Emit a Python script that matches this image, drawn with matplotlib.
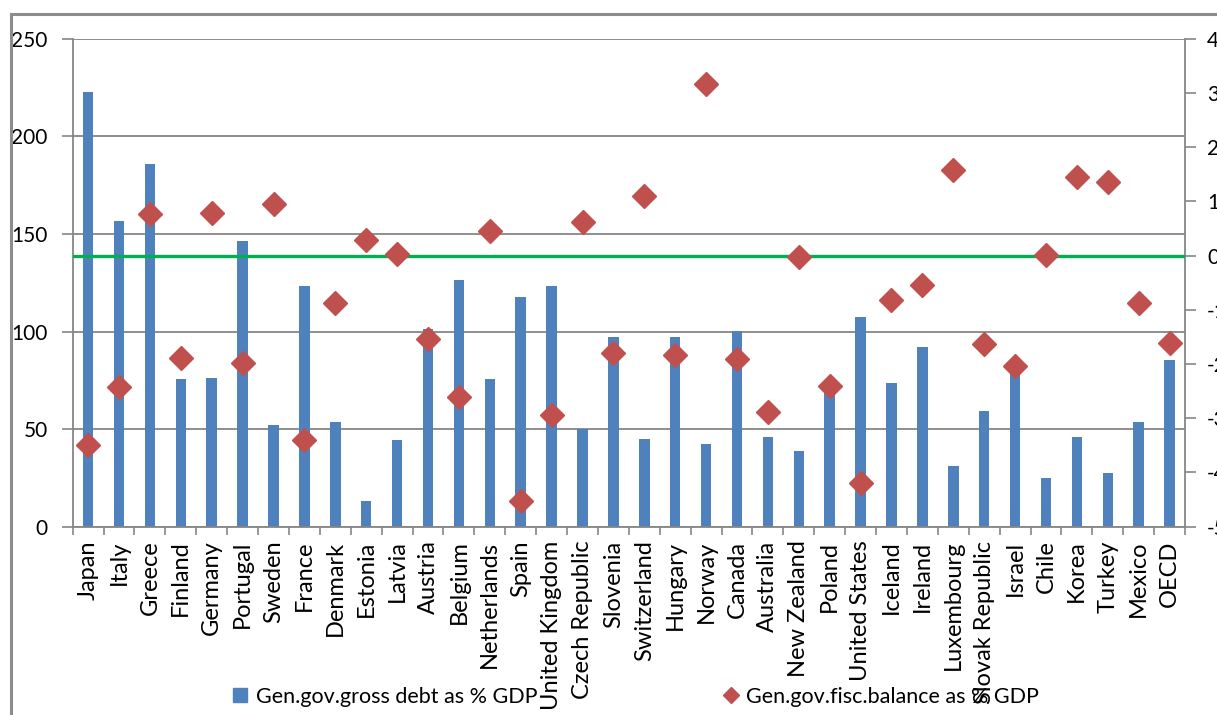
import matplotlib
matplotlib.use("Agg")
import matplotlib.pyplot as plt
import numpy as np
from matplotlib.lines import Line2D
from matplotlib.patches import Rectangle

countries = ["Japan", "Italy", "Greece", "Finland", "Germany", "Portugal", "Sweden",
             "France", "Denmark", "Estonia", "Latvia", "Austria", "Belgium",
             "Netherlands", "Spain", "United Kingdom", "Czech Republic", "Slovenia",
             "Switzerland", "Hungary", "Norway", "Canada", "Australia", "New Zealand",
             "Poland", "United States", "Iceland", "Ireland", "Luxembourg",
             "Slovak Republic", "Israel", "Chile", "Korea", "Turkey", "Mexico", "OECD"]

debt = [222.5, 156.8, 185.7, 75.5, 76.3, 146.5, 51.9, 123.5, 53.4, 13.3, 44.4,
        101.1, 126.6, 75.5, 117.5, 123.5, 50.1, 97.3, 45.1, 97.0, 42.2, 100.2,
        46.0, 38.6, 69.0, 107.3, 73.5, 91.9, 31.2, 59.3, 79.0, 24.7, 46.0, 27.4,
        53.4, 85.2]

balance = [-3.50, -2.43, 0.76, -1.88, 0.78, -1.98, 0.95, -3.40, -0.87, 0.28, 0.03,
           -1.54, -2.60, 0.45, -4.52, -2.94, 0.62, -1.80, 1.10, -1.83, 3.17, -1.91,
           -2.89, -0.02, -2.40, -4.19, -0.82, -0.55, 1.58, -1.63, -2.03, 0.01, 1.45,
           1.35, -0.87, -1.62]

left_ticks = [0, 50, 100, 150, 200, 250]
right_ticks = [-5, -4, -3, -2, -1, 0, 1, 2, 3, 4]

legend_labels = ["Gen.gov.gross debt as % GDP", "Gen.gov.fisc.balance as % GDP"]

BLUE = "#4F81BD"
RED = "#C0504D"
GREEN = "#00B050"
GRAY = "#868686"

plt.rcParams["font.family"] = ["Lato", "DejaVu Sans"]

W, H = 1217, 715
fig = plt.figure(figsize=(W / 100, H / 100), dpi=100)
ax = fig.add_axes([72.7 / W, 1 - 526.7 / H, (1185 - 72.7) / W, (526.7 - 38.7) / H])

n = len(countries)
x = np.arange(n)
ax.bar(x, debt, width=0.34, color=BLUE, zorder=2)
ax.set_xlim(-0.5, n - 0.5)
ax.set_ylim(0, 250)
ax.set_yticks(left_ticks)
ax.set_yticklabels([str(t) for t in left_ticks], fontsize=15)
ax.yaxis.grid(True, color=GRAY, linewidth=1.3, zorder=0)
ax.set_axisbelow(True)
ax.set_xticks(x)
ax.set_xticklabels(countries, rotation=90, fontsize=17, va="top", ha="center")
ax.set_xticks(np.arange(-0.5, n, 1), minor=True)
ax.tick_params(axis="x", which="major", length=0, pad=10)
ax.tick_params(axis="x", which="minor", length=6, color=GRAY, width=1.2)
ax.tick_params(axis="y", length=8, color=GRAY, width=1.2, pad=10)
for s in ["left", "bottom", "right", "top"]:
    ax.spines[s].set_color(GRAY)
    ax.spines[s].set_linewidth(1.3)
ax.spines["top"].set_visible(False)

ax2 = ax.twinx()
ax2.set_ylim(-5, 4)
ax2.set_yticks(right_ticks)
ax2.set_yticklabels([str(t) for t in right_ticks], fontsize=15)
ax2.tick_params(axis="y", length=8, color=GRAY, width=1.2, pad=8)
for s in ["left", "bottom", "right", "top"]:
    ax2.spines[s].set_visible(False)
ax2.axhline(0, color=GREEN, linewidth=2.4, zorder=3)
ax2.plot(x, balance, linestyle="none", marker="D", markersize=12.5,
         color=RED, markeredgecolor=RED, zorder=4)

# outer chart frame
fig.patches.append(Rectangle((11 / W, -0.1), 1.2, 1 - 14 / H + 0.1,
                             transform=fig.transFigure, fill=False,
                             edgecolor="#8c8c8c", linewidth=2.2))

handles = [Line2D([], [], linestyle="none", marker="s", markersize=10, color=BLUE),
           Line2D([], [], linestyle="none", marker="D", markersize=8, color=RED)]
fig.legend(handles, legend_labels, loc="center", bbox_to_anchor=(0.522, 1 - 697 / H),
           ncol=2, frameon=False, fontsize=15.5, handlelength=0.8, handletextpad=0.3,
           columnspacing=8.6)

fig.savefig("out.png", dpi=100)
